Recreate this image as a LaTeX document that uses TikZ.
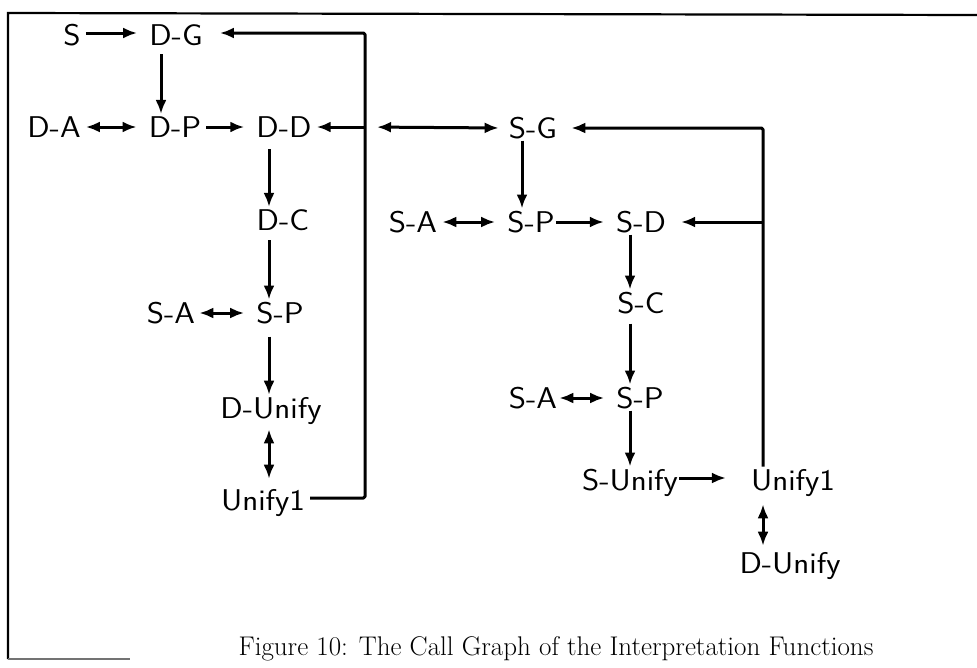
\documentclass[tikz,border=0pt]{standalone}
\usepackage{graphicx}
\usetikzlibrary{arrows.meta}
\newcommand{\fstretch}[1]{\scalebox{1.1}[1]{#1}}
\begin{document}
\begin{tikzpicture}[x=1pt,y=-1pt,
  fn/.style={font=\fontsize{30}{32}\selectfont\sffamily, inner xsep=5pt, inner ysep=2pt, anchor=base},
  conn/.style={line width=3pt, line join=round, rounded corners=1.5pt},
  tip/.tip={Latex[length=14pt,width=11pt]},
  arr/.style={conn, -tip},
  darr/.style={conn, tip-tip},
  hgap/.style={shorten >=7pt},
]
\useasboundingbox (0,0) rectangle (977,667);
% frame
\draw[line width=2.2pt] (8,659) -- (8,13) -- (977,15);
\draw[line width=1.2pt, black!55] (8,659) -- (130,659);

% left graph
\node[fn] (s)   at (72,45)  {\fstretch{S}};
\node[fn] (dg)  at (176,45) {\fstretch{D-G}};
\node[fn] (da)  at (54,137) {\fstretch{D-A}};
\node[fn] (dp)  at (175,137) {\fstretch{D-P}};
\node[fn] (dd)  at (284,137) {\fstretch{D-D}};
\node[fn] (dc)  at (283,230) {\fstretch{D-C}};
\node[fn] (sa1) at (171,323) {\fstretch{S-A}};
\node[fn] (sp1) at (280,323) {\fstretch{S-P}};
\node[fn] (du1) at (271,418) {\fstretch{D-Unify}};
\node[fn] (u1l) at (263,510) {\fstretch{Unify1}};

% right graph
\node[fn] (sg)  at (533,138) {\fstretch{S-G}};
\node[fn] (sa2) at (413,232) {\fstretch{S-A}};
\node[fn] (sp2) at (531,232) {\fstretch{S-P}};
\node[fn] (sd)  at (641,232) {\fstretch{S-D}};
\node[fn] (sc)  at (641,313) {\fstretch{S-C}};
\node[fn] (sa3) at (533,408) {\fstretch{S-A}};
\node[fn] (sp3) at (640,408) {\fstretch{S-P}};
\node[fn] (su)  at (630,490) {\fstretch{S-Unify}};
\node[fn] (u1r) at (793,490) {\fstretch{Unify1}};
\node[fn] (du2) at (790,573) {\fstretch{D-Unify}};

% caption
\node[font=\fontsize{27}{30}\selectfont, anchor=base] (cap) at (556,655)
  {Figure 10: The Call Graph of the Interpretation Functions};

% column coordinates
\coordinate (c1) at (161,0);
\coordinate (c2) at (269,0);
\coordinate (c3) at (522,0);
\coordinate (c4) at (630,0);
\coordinate (jL) at (365,0);
\coordinate (jR) at (763,0);

% horizontal arrows
\draw[arr, hgap]  ([yshift=12pt]s.base east) -- ([yshift=12pt]dg.base west);
\draw[darr, hgap] ([yshift=10pt]da.base east) -- ([yshift=10pt]dp.base west);
\draw[arr, hgap]  ([yshift=10pt]dp.base east) -- ([yshift=10pt]dd.base west);
\draw[darr, hgap, shorten <=-1pt] ([yshift=10pt]sa1.base east) -- ([yshift=10pt]sp1.base west);
\draw[darr, hgap] ([yshift=10pt]sa2.base east) -- ([yshift=10pt]sp2.base west);
\draw[arr, hgap, shorten <=-4pt]  ([yshift=10pt]sp2.base east) -- ([yshift=10pt]sd.base west);
\draw[darr, hgap, shorten <=-3pt] ([yshift=10pt]sa3.base east) -- ([yshift=10pt]sp3.base west);
\draw[arr, shorten <=-4pt, shorten >=20pt]  ([yshift=12pt]su.base east) -- ([yshift=12pt]u1r.base west);

% vertical arrows
\draw[arr, shorten <=7pt] (dg.south -| c1) -- (dp.north -| c1);
\draw[arr, shorten <=10pt] (dd.south -| c2) -- (dc.north -| c2);
\draw[arr, shorten <=8pt] (dc.south -| c2) -- (sp1.north -| c2);
\draw[arr, shorten <=11pt] (sp1.south -| c2) -- (du1.north -| c2);
\draw[darr, shorten <=3pt, shorten >=8pt] (du1.south -| c2) -- (u1l.north -| c2);
\draw[arr] (sg.south -| c3) -- (sp2.north -| c3);
\draw[arr] (sd.south -| c4) -- (sc.north -| c4);
\draw[arr, shorten <=8pt] (sc.south -| c4) -- (sp3.north -| c4);
\draw[arr] (sp3.south -| c4) -- (su.north -| c4);
\draw[darr, shorten <=6pt, shorten >=4pt] (u1r.south -| jR) -- (du2.north -| jR);

% left feedback loop
\draw[arr, shorten >=12pt] ([yshift=12pt]u1l.base east) -| (jL |- 0,33) -- (dg.east |- 0,33);
\draw[arr] (jL |- 0,127) -- ([yshift=10pt]dd.base east);
\draw[darr, shorten <=12pt, shorten >=5pt] (jL |- 0,127) -- ([yshift=10pt]sg.base west);

% right feedback loop
\draw[arr, shorten >=9pt] (u1r.north -| jR) -- (jR |- 0,128) -- ([yshift=10pt]sg.base east);
\draw[arr, shorten >=10pt] (jR |- 0,222) -- ([yshift=10pt]sd.base east);
\end{tikzpicture}
\end{document}
